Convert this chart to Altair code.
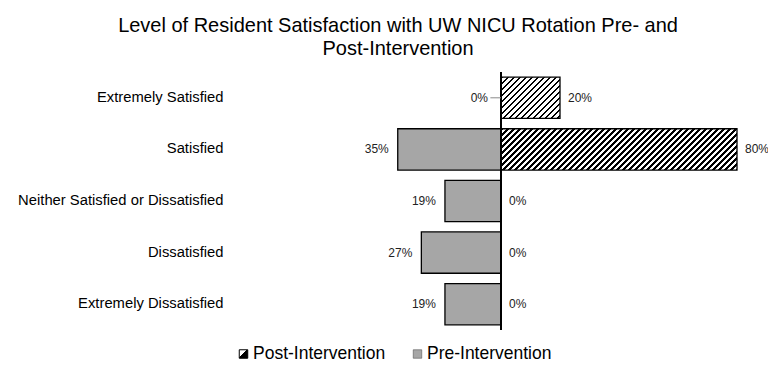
import math
import altair as alt
import pandas as pd

# ---- data ----
categories = [
    "Extremely Satisfied",
    "Satisfied",
    "Neither Satisfied or Dissatisfied",
    "Dissatisfied",
    "Extremely Dissatisfied",
]
pre_values = [0, 35, 19, 27, 19]
post_values = [20, 80, 0, 0, 0]
series_names = ["Post-Intervention", "Pre-Intervention"]
title_lines = ["Level of Resident Satisfaction with UW NICU Rotation Pre- and", "Post-Intervention"]

FONT = "Liberation Sans, Arial, Helvetica, sans-serif"
GRAY = "#a6a6a6"

X_MIN, X_MAX = -90, 88
PX = 2.95
W = (X_MAX - X_MIN) * PX
H = 258
P_IN, P_OUT = 0.2, 0.1
STEP = H / (len(categories) - P_IN + 2 * P_OUT)
BAND = STEP * (1 - P_IN)
PERIOD = 6.0
FRAC = 0.4

df = pd.DataFrame({
    "category": categories,
    "pre": pre_values,
    "post": post_values,
})
df["neg_pre"] = -df["pre"]
df["zero"] = 0
df["pre_label"] = [f"{v}%" for v in pre_values]
df["post_label"] = [f"{v}%" for v in post_values]


def hatch(w, h, phase=0.0, period=PERIOD, frac=FRAC):
    """Diagonal '/' hatch as a striped linear gradient in bbox units.
    phase = horizontal pixel offset of this piece from the bar start."""
    k = (w + h) / (w * w + h * h)
    span = w + h
    stops = []

    def col(s):
        return "black" if ((s + phase) % period) < frac * period else "white"

    stops.append({"offset": 0, "color": col(0)})
    i = math.floor(phase / period) - 1
    while True:
        s_on = i * period - phase
        s_off = (i + frac) * period - phase
        if s_on > span:
            break
        if 0 < s_on < span:
            stops += [{"offset": s_on / span, "color": "white"},
                      {"offset": s_on / span, "color": "black"}]
        if 0 < s_off < span:
            stops += [{"offset": s_off / span, "color": "black"},
                      {"offset": s_off / span, "color": "white"}]
        i += 1
    stops.append({"offset": 1, "color": col(span)})
    return {"gradient": "linear", "x1": 0, "y1": 0, "x2": k * w, "y2": k * h, "stops": stops}


y_enc = alt.Y(
    "category:N",
    sort=categories,
    scale=alt.Scale(paddingInner=P_IN, paddingOuter=P_OUT),
    axis=alt.Axis(
        title=None, domain=False, ticks=False, labelPadding=12.5,
        labelFont=FONT, labelFontSize=14.8, labelColor="black", labelLimit=400,
    ),
)
x_scale = alt.Scale(domain=[X_MIN, X_MAX], nice=False, zero=False)

base = alt.Chart(df)

pre_bars = base.transform_filter("datum.pre > 0").mark_bar(
    fill=GRAY, stroke="black", strokeWidth=1.3
).encode(
    x=alt.X("neg_pre:Q", scale=x_scale, axis=None),
    x2="zero:Q",
    y=y_enc,
)

# hatched post bars: drawn in near-square pieces (so the hatch stays at 45 deg),
# then outlined as a whole
post_layers = []
OVER = 0.3  # data-unit overlap between pieces to hide seams
for cat, v in zip(categories, post_values):
    if v <= 0:
        continue
    w_total = v * PX
    m = max(1, round(w_total / BAND))
    for j in range(m):
        a = v * j / m
        b = min(v, v * (j + 1) / m + (OVER if j < m - 1 else 0))
        post_layers.append(
            base.transform_filter(alt.datum.category == cat).transform_calculate(
                seg_a=str(a), seg_b=str(b)
            ).mark_bar(
                fill=hatch((b - a) * PX, BAND, phase=a * PX), strokeWidth=0
            ).encode(
                x=alt.X("seg_a:Q", scale=x_scale, axis=None),
                x2="seg_b:Q",
                y=y_enc,
            )
        )
post_outline = base.transform_filter("datum.post > 0").mark_bar(
    fill="white", fillOpacity=0, stroke="black", strokeWidth=1.3
).encode(
    x=alt.X("zero:Q", scale=x_scale, axis=None),
    x2="post:Q",
    y=y_enc,
)

axis_rule = base.mark_rule(color="black", strokeWidth=1.2).encode(
    x=alt.X("zero:Q", scale=x_scale, axis=None)
)

pre_text = base.transform_filter("datum.pre > 0").mark_text(
    align="right", dx=-9, font=FONT, fontSize=12, color="#222"
).encode(x=alt.X("neg_pre:Q", scale=x_scale, axis=None), y=y_enc, text="pre_label:N")

pre_zero_text = base.transform_filter("datum.pre == 0").mark_text(
    align="right", dx=-13, font=FONT, fontSize=12, color="#222"
).encode(x=alt.X("neg_pre:Q", scale=x_scale, axis=None), y=y_enc, text="pre_label:N")

leader = base.transform_filter("datum.pre == 0").transform_calculate(
    lead_end="-3.6"
).mark_rule(color="#8a8a8a", strokeWidth=1).encode(
    x=alt.X("lead_end:Q", scale=x_scale, axis=None),
    x2="zero:Q",
    y=y_enc,
)

post_text = base.mark_text(
    align="left", dx=8, font=FONT, fontSize=12, color="#222"
).encode(x=alt.X("post:Q", scale=x_scale, axis=None), y=y_enc, text="post_label:N")

# ---- legend (manual, to show the hatch) ----
leg_df = pd.DataFrame({"name": series_names})
LEG_Y = 282
leg_hatch = alt.Chart(leg_df).transform_filter(alt.datum.name == series_names[0]).mark_square(
    size=72, fill={"gradient": "linear", "x1": 0, "y1": 0, "x2": 1, "y2": 1,
                   "stops": [{"offset": 0, "color": "white"}, {"offset": 0.42, "color": "white"},
                             {"offset": 0.42, "color": "black"}, {"offset": 1, "color": "black"}]},
    stroke="black", strokeWidth=1, opacity=1,
).encode(x=alt.value(8), y=alt.value(LEG_Y))
leg_gray = alt.Chart(leg_df).transform_filter(alt.datum.name == series_names[1]).mark_square(
    size=72, fill=GRAY, stroke="#555", strokeWidth=0.6, opacity=1,
).encode(x=alt.value(182), y=alt.value(LEG_Y))
leg_t1 = alt.Chart(leg_df).transform_filter(alt.datum.name == series_names[0]).mark_text(
    align="left", baseline="middle", font=FONT, fontSize=17.5, color="black"
).encode(x=alt.value(17.5), y=alt.value(LEG_Y), text="name:N")
leg_t2 = alt.Chart(leg_df).transform_filter(alt.datum.name == series_names[1]).mark_text(
    align="left", baseline="middle", font=FONT, fontSize=17.5, color="black"
).encode(x=alt.value(191.5), y=alt.value(LEG_Y), text="name:N")

chart = alt.layer(
    pre_bars, *post_layers, post_outline, axis_rule, pre_text, pre_zero_text, leader, post_text,
    leg_hatch, leg_gray, leg_t1, leg_t2,
).properties(
    width=W,
    height=H,
    title=alt.TitleParams(
        text=title_lines, font=FONT, fontSize=20, fontWeight="normal", color="black",
        anchor="middle", frame="group", dx=-100, offset=12, lineHeight=23,
    ),
    autosize=alt.AutoSizeParams(type="none"),
    padding={"left": 227.5, "top": 64, "right": 7, "bottom": 34},
).configure_view(stroke=None)

chart.save("out.html", embed_options={"renderer": "svg", "actions": False})
